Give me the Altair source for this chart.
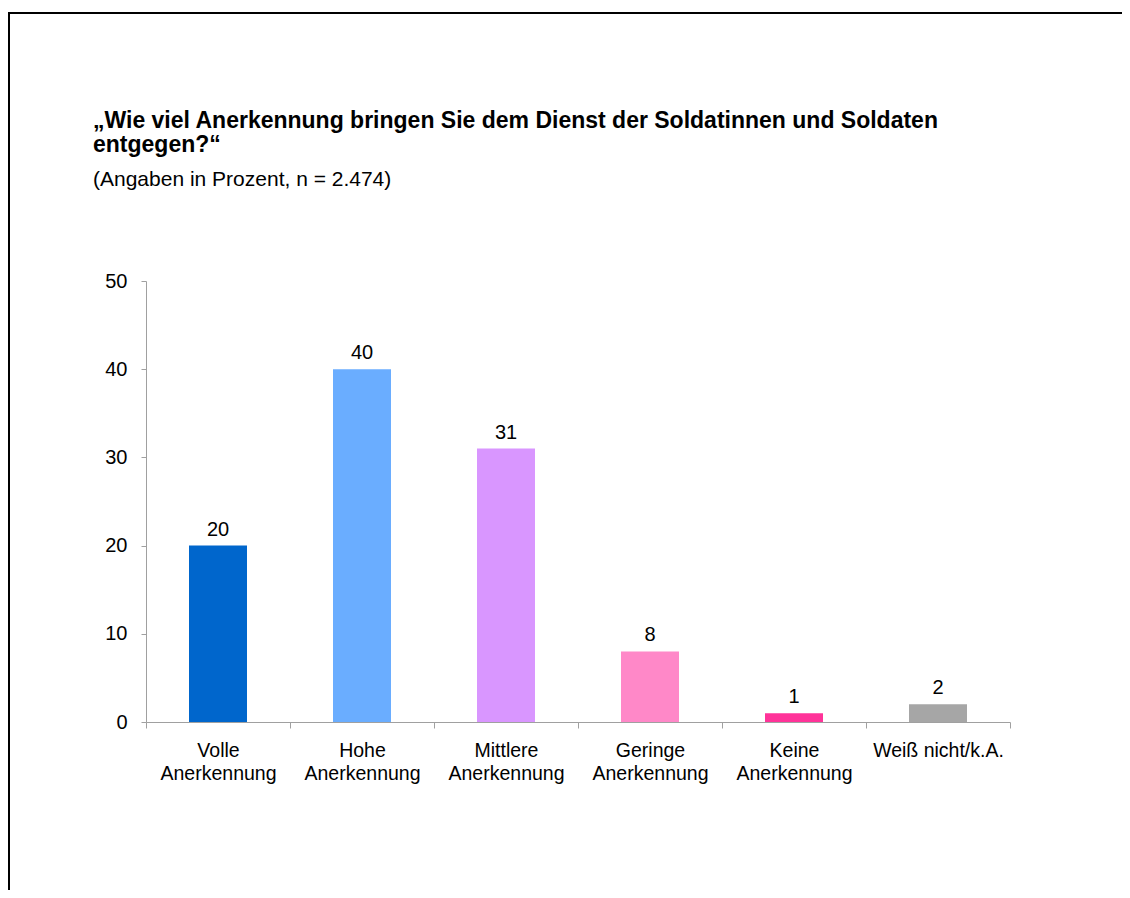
import altair as alt
import pandas as pd

categories = ["Volle Anerkennung", "Hohe Anerkennung", "Mittlere Anerkennung",
              "Geringe Anerkennung", "Keine Anerkennung", "Weiß nicht/k.A."]
values = [20, 40, 31, 8, 1, 2]
colors = ["#0066CC", "#6AADFF", "#D996FF", "#FF88C8", "#FF3399", "#A6A6A6"]

title_lines = ["„Wie viel Anerkennung bringen Sie dem Dienst der Soldatinnen und Soldaten",
               "entgegen?“"]
subtitle = "(Angaben in Prozent, n = 2.474)"

df = pd.DataFrame({"cat": categories, "val": values})
one = pd.DataFrame({"k": [0]})

FONT = "Liberation Sans"
W, H = 864, 441
PL, PT = 138, 273
TOTAL_W, TOTAL_H = 1114, 882

x = alt.X("cat:N", sort=categories, title=None,
          scale=alt.Scale(paddingInner=0, paddingOuter=0),
          axis=alt.Axis(labelAngle=0, tickBand="extent", tickSize=6,
                        labelFontSize=19.5, labelFont=FONT, labelColor="#000000",
                        labelLineHeight=23, labelPadding=13, labelBaseline="top",
                        domainColor="#A0A0A0", tickColor="#A0A0A0",
                        labelExpr="indexof(datum.label, 'Anerkennung') > 0 ? split(datum.label, ' ') : datum.label"))
y = alt.Y("val:Q", title=None,
          scale=alt.Scale(domain=[0, 50], nice=False),
          axis=alt.Axis(values=[0, 10, 20, 30, 40, 50], grid=False, tickSize=5,
                        labelFontSize=20, labelFont=FONT, labelColor="#000000",
                        labelPadding=14, domainColor="#A0A0A0", tickColor="#A0A0A0"))

bars = alt.Chart(df).mark_bar(size=58).encode(
    x=x, y=y,
    color=alt.Color("cat:N", sort=categories,
                    scale=alt.Scale(domain=categories, range=colors), legend=None),
)
labels = alt.Chart(df).mark_text(dy=-10, baseline="alphabetic", fontSize=20, font=FONT,
                                 color="#000000").encode(
    x=alt.X("cat:N", sort=categories), y="val:Q", text="val:Q")

top_line = alt.Chart(one).mark_rule(color="#000000", strokeWidth=2).encode(
    x=alt.value(-PL), x2=alt.value(TOTAL_W), y=alt.value(-PT + 5))
left_line = alt.Chart(one).mark_rule(color="#000000", strokeWidth=2).encode(
    x=alt.value(-PL + 1), y=alt.value(-PT + 4), y2=alt.value(TOTAL_H))

t1 = alt.Chart(one).mark_text(align="left", baseline="alphabetic", font=FONT, fontSize=23,
                              fontWeight="bold", color="#000000", text=title_lines[0]).encode(
    x=alt.value(-53), y=alt.value(-153))
t2 = alt.Chart(one).mark_text(align="left", baseline="alphabetic", font=FONT, fontSize=23,
                              fontWeight="bold", color="#000000", text=title_lines[1]).encode(
    x=alt.value(-53), y=alt.value(-129))
t3 = alt.Chart(one).mark_text(align="left", baseline="alphabetic", font=FONT, fontSize=21,
                              color="#000000", text=subtitle).encode(
    x=alt.value(-53), y=alt.value(-95))

chart = alt.layer(bars, labels, top_line, left_line, t1, t2, t3).properties(
    width=W, height=H,
    background="white",
    autosize=alt.AutoSizeParams(type="none"),
    padding={"left": PL, "top": PT, "right": TOTAL_W - PL - W, "bottom": TOTAL_H - PT - H},
).configure_view(strokeWidth=0, stroke="transparent")

chart.save("out.html", embed_options={"renderer": "svg", "actions": False})
